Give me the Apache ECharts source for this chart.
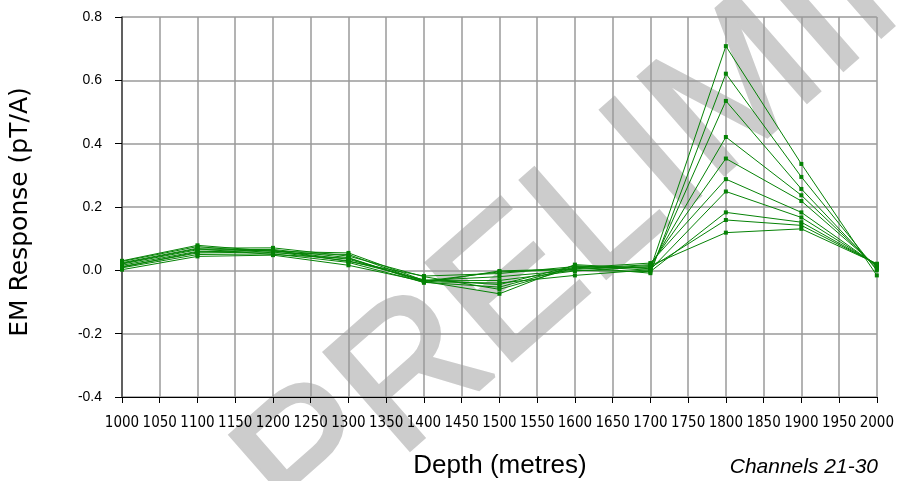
<!DOCTYPE html>
<html>
<head>
<meta charset="utf-8">
<script src="https://cdn.jsdelivr.net/npm/echarts@6/dist/echarts.min.js"></script>
<style>
html,body{margin:0;padding:0;background:#fff;}
#c{width:897px;height:481px;}
</style>
</head>
<body>
<div id="c"></div>
<script>
// Depth samples (metres)
const depths = [1000, 1100, 1200, 1300, 1400, 1500, 1600, 1700, 1800, 1900, 2000];
// EM response (pT/A), channels 21..30
const ch21 = [0.002, 0.044, 0.048, 0.016, -0.035, -0.074, 0.018, 0.005, 0.708, 0.336, -0.016];
const ch22 = [0.008, 0.050, 0.052, 0.025, -0.038, -0.053, 0.011, -0.009, 0.621, 0.295, 0.000];
const ch23 = [0.012, 0.055, 0.058, 0.030, -0.030, -0.045, 0.015, 0.000, 0.535, 0.257, 0.005];
const ch24 = [0.016, 0.060, 0.062, 0.035, -0.033, -0.032, -0.002, 0.012, 0.421, 0.237, 0.010];
const ch25 = [0.020, 0.065, 0.066, 0.040, -0.039, -0.002, 0.005, 0.018, 0.353, 0.219, 0.012];
const ch26 = [0.024, 0.070, 0.071, 0.045, -0.020, -0.060, 0.008, 0.023, 0.288, 0.183, 0.015];
const ch27 = [0.028, 0.075, 0.055, 0.050, -0.036, -0.040, -0.016, 0.002, 0.249, 0.167, 0.017];
const ch28 = [0.030, 0.079, 0.060, 0.055, -0.032, -0.020, 0.000, -0.004, 0.183, 0.152, 0.019];
const ch29 = [0.010, 0.058, 0.064, 0.028, -0.018, -0.010, 0.012, 0.008, 0.159, 0.142, 0.020];
const ch30 = [0.022, 0.068, 0.050, 0.038, -0.034, -0.005, 0.003, 0.015, 0.119, 0.131, 0.021];
const channels = [ch21, ch22, ch23, ch24, ch25, ch26, ch27, ch28, ch29, ch30];
const channelNames = ['Ch 21','Ch 22','Ch 23','Ch 24','Ch 25','Ch 26','Ch 27','Ch 28','Ch 29','Ch 30'];
const xMin = 1000, xMax = 2000, xStep = 50;
const yMin = -0.4, yMax = 0.8, yStep = 0.2;
const yTitle = 'EM Response (pT/A)';
const xTitle = 'Depth (metres)';
const noteText = 'Channels 21-30';
const watermark = 'PRELIMINARY';

const chart = echarts.init(document.getElementById('c'), null, {renderer: 'canvas'});
const series = channels.map((vals, i) => ({
  name: channelNames[i],
  type: 'line',
  data: depths.map((d, j) => [d, vals[j]]),
  symbol: 'rect',
  symbolSize: 4,
  showSymbol: true,
  lineStyle: {color: '#058205', width: 1},
  itemStyle: {color: '#058205'},
  emphasis: {disabled: true},
  animation: false,
  z: 3
}));

chart.setOption({
  animation: false,
  grid: {left: 122, right: 18, top: 17, bottom: 84, containLabel: false},
  xAxis: {
    type: 'value', min: xMin, max: xMax, interval: xStep,
    axisLine: {show: true, onZero: false, lineStyle: {color: '#000', width: 1}},
    axisTick: {show: true, length: 6, lineStyle: {color: '#000'}},
    axisLabel: {color: '#000', fontFamily: "'Liberation Sans Narrow', 'Arial Narrow', 'DejaVu Sans Condensed', sans-serif", fontSize: 15, margin: 19,
      formatter: v => String(Math.round(v))},
    splitLine: {show: true, lineStyle: {color: '#9a9a9a', width: 1.5}}
  },
  yAxis: {
    type: 'value', min: yMin, max: yMax, interval: yStep,
    axisLine: {show: true, onZero: false, lineStyle: {color: '#444', width: 1.5}},
    axisTick: {show: true, length: 7, lineStyle: {color: '#000'}},
    axisLabel: {color: '#000', fontFamily: "'Liberation Sans', Arial, sans-serif", fontSize: 14, margin: 20,
      formatter: v => (Math.abs(v) < 1e-9 ? 0 : v).toFixed(1)},
    splitLine: {show: true, lineStyle: {color: '#9a9a9a', width: 1.5}}
  },
  graphic: [
    {type: 'text', z: -10, x: 332, y: 574, rotation: 0.72,
      style: {text: watermark, fill: '#cccccc', stroke: '#cccccc', lineWidth: 4, font: "188px 'Liberation Sans', Arial, sans-serif", textAlign: 'left', textVerticalAlign: 'bottom'}},
    {type: 'text', x: 20, y: 212, rotation: Math.PI / 2,
      style: {text: yTitle, fill: '#000', font: "25px 'DejaVu Sans', sans-serif", textAlign: 'center', textVerticalAlign: 'middle'}},
    {type: 'text', x: 500, y: 466,
      style: {text: xTitle, fill: '#000', font: "26px 'Liberation Sans', Arial, sans-serif", textAlign: 'center', textVerticalAlign: 'middle'}},
    {type: 'text', x: 878, y: 467,
      style: {text: noteText, fill: '#000', font: "italic 21px 'Liberation Sans', Arial, sans-serif", textAlign: 'right', textVerticalAlign: 'middle'}}
  ],
  series: series
});
</script>
</body>
</html>
